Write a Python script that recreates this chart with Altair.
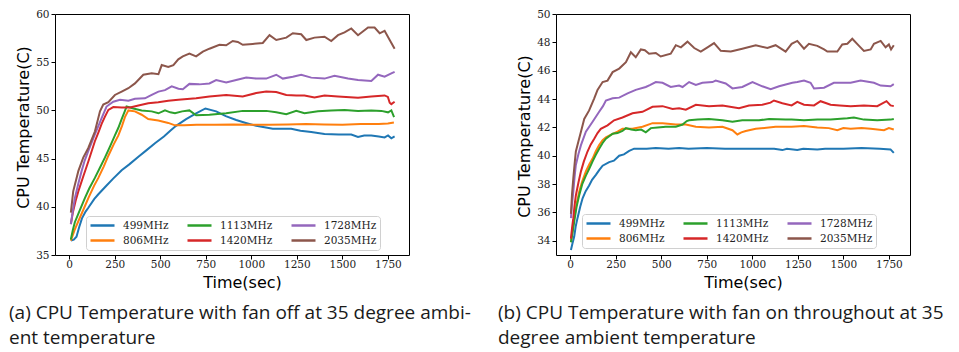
import altair as alt
import pandas as pd

FREQS = ["499MHz", "806MHz", "1113MHz", "1420MHz", "1728MHz", "2035MHz"]
COLORS = ["#1f77b4", "#ff7f0e", "#2ca02c", "#d62728", "#9467bd", "#8c564b"]
X_TICKS = [0, 250, 500, 750, 1000, 1250, 1500, 1750]
Y_TICKS_A = [35, 40, 45, 50, 55, 60]
Y_TICKS_B = [34, 36, 38, 40, 42, 44, 46, 48, 50]
CAPTION_A = "(a) CPU Temperature with fan off at 35 degree ambi-\nent temperature"
CAPTION_B = "(b) CPU Temperature with fan on throughout at 35\ndegree ambient temperature"

# ---- panel (a): fan off ----
a_499 = [(9,36.5),(25,36.6),(40,36.9),(55,37.9),(70,38.8),(90,39.5),(105,39.9),(137,40.8),(160,41.3),(200,42.1),(240,42.9),(288,43.8),(330,44.4),(380,45.2),(420,45.8),(471,46.6),(520,47.3),(555,47.9),(587,48.4),(642,49.1),(697,49.7),(748,50.2),(807,49.9),(860,49.4),(917,49.0),(970,48.7),(1027,48.4),(1118,48.1),(1219,48.1),(1270,47.9),(1329,47.75),(1402,47.55),(1480,47.5),(1549,47.5),(1586,47.25),(1620,47.4),(1659,47.4),(1700,47.3),(1732,47.2),(1751,47.4),(1769,47.1),(1787,47.3)]
a_806 = [(9,36.5),(30,37.6),(50,38.5),(80,39.8),(105,40.9),(137,42.2),(160,43.0),(190,44.2),(215,45.3),(245,46.5),(270,47.4),(290,48.4),(306,49.3),(325,50.0),(361,49.9),(398,49.55),(434,49.1),(489,48.95),(544,48.7),(581,48.45),(632,48.45),(700,48.5),(800,48.5),(900,48.55),(1000,48.5),(1100,48.5),(1200,48.55),(1300,48.6),(1400,48.55),(1500,48.5),(1600,48.6),(1700,48.6),(1750,48.65),(1783,48.75)]
a_1113 = [(9,36.6),(20,37.6),(31,38.4),(55,39.5),(86,40.9),(110,41.9),(141,43.0),(170,44.1),(196,45.1),(225,46.3),(251,47.4),(270,48.2),(288,49.1),(305,49.9),(315,50.4),(335,50.3),(352,50.2),(398,50.0),(453,49.9),(490,49.7),(526,50.0),(555,49.8),(581,49.7),(620,49.9),(660,50.0),(697,49.5),(770,49.55),(862,49.7),(953,49.95),(1027,49.95),(1082,49.95),(1137,49.8),(1192,49.6),(1247,49.95),(1292,49.7),(1366,49.9),(1439,50.0),(1512,50.05),(1586,49.95),(1659,50.0),(1714,49.95),(1751,49.8),(1769,50.0),(1784,49.3)]
a_1420 = [(9,38.2),(20,39.4),(35,40.6),(50,41.6),(78,43.2),(105,44.7),(141,46.8),(160,47.7),(178,48.6),(195,49.3),(215,50.05),(242,50.35),(288,50.3),(334,50.3),(380,50.5),(434,50.75),(489,50.85),(544,51.0),(599,51.1),(697,51.25),(770,51.45),(862,51.6),(953,51.45),(1027,51.8),(1082,51.95),(1137,51.9),(1192,51.6),(1247,51.55),(1292,51.55),(1347,51.35),(1402,51.55),(1476,51.45),(1586,51.3),(1659,51.45),(1732,51.55),(1750,51.4),(1760,50.8),(1769,50.65),(1787,50.9)]
a_1728 = [(9,38.2),(20,39.6),(31,40.9),(50,42.4),(68,43.7),(85,44.8),(105,45.8),(141,47.5),(178,49.2),(205,50.4),(242,50.9),(279,51.1),(325,51.0),(361,51.2),(416,51.25),(453,51.6),(490,51.95),(526,52.1),(563,52.5),(600,52.25),(624,52.2),(660,52.75),(715,52.7),(770,52.8),(807,53.15),(862,52.9),(917,53.15),(972,53.4),(1027,53.3),(1082,53.3),(1137,53.7),(1173,53.3),(1228,53.5),(1274,53.7),(1329,53.4),(1402,53.3),(1457,53.6),(1531,53.3),(1586,53.15),(1659,53.05),(1696,53.7),(1732,53.5),(1769,53.85),(1787,54.0)]
a_2035 = [(9,39.4),(22,41.6),(50,43.7),(77,45.1),(105,46.1),(141,47.8),(169,49.9),(187,50.6),(215,50.85),(251,51.6),(288,51.95),(325,52.3),(361,52.8),(407,53.7),(453,53.85),(490,53.75),(508,54.7),(544,54.5),(572,54.7),(599,55.3),(624,55.6),(660,55.9),(697,55.6),(734,56.1),(770,56.4),(825,56.8),(862,56.75),(898,57.2),(926,57.1),(953,56.8),(1008,56.9),(1063,57.0),(1100,57.8),(1137,57.3),(1192,57.55),(1228,58.0),(1274,57.9),(1302,57.3),(1347,57.55),(1402,57.65),(1439,57.2),(1476,57.8),(1512,58.1),(1549,58.5),(1586,57.8),(1641,58.6),(1677,58.6),(1705,58.0),(1732,58.25),(1760,57.3),(1787,56.4)]

# ---- panel (b): fan on ----
b_499 = [(4,33.35),(12,33.8),(22,34.3),(30,35.0),(40,35.6),(55,36.4),(68,37.0),(85,37.5),(104,37.9),(120,38.3),(141,38.65),(160,39.0),(178,39.3),(214,39.55),(240,39.65),(269,40.0),(295,40.1),(324,40.35),(351,40.5),(379,40.5),(420,40.5),(470,40.55),(540,40.5),(598,40.55),(650,40.5),(750,40.55),(850,40.5),(950,40.5),(1050,40.5),(1120,40.5),(1165,40.4),(1190,40.5),(1247,40.4),(1280,40.5),(1357,40.45),(1400,40.5),(1500,40.5),(1600,40.55),(1700,40.5),(1759,40.45),(1777,40.2)]
b_806 = [(4,33.9),(12,34.7),(22,35.6),(35,36.6),(49,37.45),(66,38.2),(86,38.9),(105,39.4),(123,39.8),(140,40.3),(159,40.75),(178,41.1),(196,41.3),(233,41.55),(260,41.7),(287,41.9),(342,41.9),(397,42.05),(452,42.3),(507,42.3),(580,42.2),(635,42.2),(690,42.05),(762,42.0),(836,42.05),(891,41.8),(918,41.5),(940,41.65),(964,41.75),(1019,41.9),(1128,42.05),(1216,42.05),(1284,42.1),(1357,42.0),(1420,41.95),(1467,41.8),(1500,41.95),(1540,41.9),(1600,41.95),(1650,41.9),(1723,41.8),(1750,41.95),(1777,41.85)]
b_1113 = [(4,33.9),(12,34.5),(22,35.35),(35,36.4),(49,37.2),(66,38.0),(86,38.6),(105,39.1),(123,39.6),(140,40.05),(159,40.5),(178,40.9),(196,41.2),(233,41.55),(260,41.6),(287,41.75),(306,41.95),(335,41.85),(360,41.8),(390,41.85),(415,41.65),(443,41.95),(480,42.0),(525,42.05),(580,42.05),(617,42.2),(640,42.45),(653,42.5),(700,42.55),(762,42.6),(836,42.5),(891,42.4),(945,42.5),(1037,42.5),(1092,42.6),(1183,42.55),(1216,42.55),(1284,42.5),(1357,42.55),(1430,42.55),(1522,42.65),(1558,42.7),(1613,42.55),(1686,42.5),(1759,42.55),(1777,42.6)]
b_1420 = [(4,34.15),(10,34.9),(17,35.6),(24,36.5),(31,37.2),(45,38.1),(59,38.9),(75,39.6),(95,40.3),(113,40.8),(132,41.2),(150,41.6),(168,41.9),(205,42.15),(241,42.5),(287,42.7),(342,43.0),(397,43.1),(452,43.45),(507,43.5),(562,43.3),(598,43.35),(635,43.25),(690,43.6),(762,43.5),(836,43.55),(927,43.35),(982,43.55),(1055,43.6),(1100,43.75),(1119,43.9),(1165,43.7),(1216,43.55),(1247,43.8),(1284,43.6),(1339,43.55),(1375,43.85),(1430,43.6),(1480,43.55),(1540,43.5),(1613,43.55),(1686,43.5),(1737,43.85),(1759,43.55),(1777,43.5)]
b_1728 = [(4,35.6),(10,36.6),(17,37.45),(24,38.5),(31,39.35),(45,40.1),(59,40.75),(86,41.7),(123,42.4),(159,43.1),(180,43.5),(196,43.9),(233,44.05),(269,44.1),(315,44.4),(360,44.65),(415,44.85),(440,45.0),(470,45.2),(507,45.15),(552,44.85),(598,44.95),(617,44.85),(653,45.2),(690,45.0),(726,45.15),(781,45.2),(799,45.3),(854,45.1),(891,44.75),(945,44.85),(1001,45.2),(1055,44.9),(1101,44.7),(1147,44.9),(1220,45.15),(1247,45.2),(1284,45.3),(1320,45.15),(1339,44.75),(1394,44.8),(1448,45.15),(1540,45.15),(1595,45.3),(1668,45.15),(1705,44.95),(1759,44.9),(1777,45.05)]
b_2035 = [(4,35.9),(10,37.3),(17,38.4),(24,39.4),(31,40.3),(45,41.0),(59,41.7),(77,42.6),(104,43.2),(132,44.05),(150,44.65),(178,45.2),(205,45.3),(233,45.9),(269,46.15),(306,46.6),(333,47.3),(360,46.95),(388,47.5),(410,47.45),(433,47.2),(470,47.25),(497,47.0),(552,47.2),(580,47.8),(608,47.65),(644,48.05),(681,47.6),(717,47.35),(754,47.65),(790,47.95),(827,47.4),(882,47.35),(945,47.55),(1019,47.8),(1083,47.6),(1128,47.8),(1183,47.35),(1216,47.9),(1247,48.1),(1284,47.55),(1311,47.9),(1357,47.75),(1394,47.5),(1412,47.35),(1467,47.35),(1494,47.85),(1522,47.9),(1549,48.25),(1586,47.75),(1613,47.4),(1650,47.5),(1668,47.9),(1705,48.1),(1732,47.65),(1750,47.85),(1762,47.5),(1777,47.8)]


def to_frame(series):
    rows = []
    for f, pts in zip(FREQS, series):
        for t, v in pts:
            rows.append({"t": t, "temp": v, "freq": f})
    return pd.DataFrame(rows)


def panel(df, ydom, yticks, caption, cap_x, leg_x, leg_y, title_y):
    lines = alt.Chart(df).mark_line(strokeWidth=2, clip=True).encode(
        x=alt.X("t:Q",
                scale=alt.Scale(domain=[-78, 1866], nice=False, zero=False),
                axis=alt.Axis(values=X_TICKS, title="Time(sec)", titleX=187,
                              labelPadding=0, titlePadding=5, format="d",
                              labelFont="DejaVu Serif", labelFontSize=10.5)),
        y=alt.Y("temp:Q",
                scale=alt.Scale(domain=ydom, nice=False, zero=False),
                axis=alt.Axis(values=yticks, title="CPU Temperature(C)",
                              titleY=title_y, titlePadding=4, format="d",
                              labelFont="DejaVu Serif", labelFontSize=10.5)),
        color=alt.Color("freq:N",
                        scale=alt.Scale(domain=FREQS, range=COLORS),
                        sort=FREQS, title=None,
                        legend=alt.Legend(orient="none", legendX=leg_x, legendY=leg_y,
                                          columns=3, symbolType="stroke",
                                          symbolSize=576, symbolStrokeWidth=2.5,
                                          labelFont="DejaVu Serif", labelFontSize=10.5,
                                          labelColor="#222", labelOffset=7,
                                          columnPadding=17, rowPadding=2,
                                          clipHeight=13, padding=3,
                                          strokeColor="#d0d0d0", fillColor="#ffffff",
                                          cornerRadius=3)),
    )
    cap = alt.Chart(pd.DataFrame({"c": [caption]})).mark_text(
        align="left", baseline="alphabetic", font="Open Sans", fontSize=19,
        lineHeight=25, lineBreak="\n", color="#1a1a1a"
    ).encode(x=alt.value(cap_x), y=alt.value(305), text="c:N")
    return alt.layer(lines, cap).properties(width=354, height=241)


left = panel(to_frame([a_499, a_806, a_1113, a_1420, a_1728, a_2035]),
             [35, 60], Y_TICKS_A, CAPTION_A, -46, 31, 202, 113)
right = panel(to_frame([b_499, b_806, b_1113, b_1420, b_1728, b_2035]),
              [33, 50], Y_TICKS_B, CAPTION_B, -58, 26, 200, 122)

chart = alt.hconcat(left, right, spacing=147, bounds="flush").resolve_scale(
    color="independent", x="independent", y="independent"
).resolve_legend(color="independent").properties(
    padding={"left": 0, "top": 0, "right": 0, "bottom": 0}
).configure_view(
    stroke="#000000", strokeWidth=1
).configure_axis(
    domain=False, grid=False, ticks=True, tickColor="#000000", tickSize=4,
    tickWidth=1, labelFont="DejaVu Serif", labelFontSize=10.5, labelColor="#222",
    labelPadding=2, titleFont="DejaVu Sans", titleFontSize=16,
    titleFontWeight="normal", titleColor="#000000"
)

chart.save("out.html", embed_options={"renderer": "svg", "actions": False})
